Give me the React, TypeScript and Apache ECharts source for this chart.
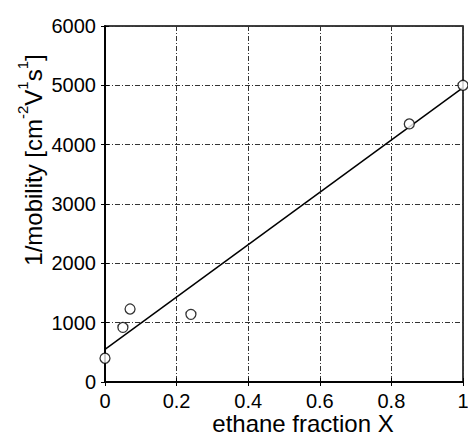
import React, { useEffect, useRef } from "react";
import * as echarts from "echarts";

const ethaneFraction = [0, 0.05, 0.07, 0.24, 0.85, 1.0];
const inverseMobility = [400, 920, 1230, 1140, 4350, 5000];
const fitX = [0, 1];
const fitY = [550, 4960];
const xTicks = [0, 0.2, 0.4, 0.6, 0.8, 1];
const yTicks = [0, 1000, 2000, 3000, 4000, 5000, 6000];

const FONT = "'Liberation Sans', Arial, sans-serif";

export default function App() {
  const ref = useRef<HTMLDivElement>(null);
  useEffect(() => {
    if (!ref.current) return;
    const chart = echarts.init(ref.current, null, { renderer: "svg" });
    const gridLine = { show: true, lineStyle: { color: "#333", width: 1, type: [5, 2, 1, 2] } };
    const xFmt = (v: number) => (xTicks.includes(Number(v.toFixed(1))) ? String(Number(v.toFixed(1))) : "");
    chart.setOption({
      animation: false,
      backgroundColor: "#fff",
      grid: {
        left: 105,
        top: 26,
        right: 5,
        bottom: 54,
        show: true,
        borderColor: "#000",
        borderWidth: 1.5,
        containLabel: false,
        outerBoundsMode: "none",
      },
      xAxis: [
        {
          type: "value",
          min: 0,
          max: 1,
          interval: 0.2,
          axisLine: { show: true, lineStyle: { color: "#000", width: 1.5 } },
          axisTick: { show: true, inside: true, length: 4, lineStyle: { color: "#000" } },
          axisLabel: { color: "#000", fontFamily: FONT, fontSize: 20, lineHeight: 20, margin: 9, formatter: xFmt },
          splitLine: gridLine,
          name: "ethane fraction X",
          nameLocation: "middle",
          nameGap: 31,
          nameMoveOverlap: false,
          nameTextStyle: { color: "#000", fontFamily: FONT, fontSize: 24, lineHeight: 20, padding: [0, 0, 0, 38] },
        },
        {
          type: "value",
          position: "top",
          min: 0,
          max: 1,
          interval: 0.2,
          axisLine: { show: true, lineStyle: { color: "#000", width: 1.5 } },
          axisTick: { show: true, inside: true, length: 4, lineStyle: { color: "#000" } },
          axisLabel: { show: false },
          splitLine: { show: false },
        },
      ],
      yAxis: [
        {
          type: "value",
          min: 0,
          max: 6000,
          interval: 1000,
          axisLine: { show: true, lineStyle: { color: "#000", width: 1.5 } },
          axisTick: { show: true, inside: true, length: 4, lineStyle: { color: "#000" } },
          axisLabel: {
            color: "#000",
            fontFamily: FONT,
            fontSize: 20,
            margin: 9,
            formatter: (v: number) => (yTicks.includes(v) ? String(v) : ""),
          },
          splitLine: gridLine,
          name: "{t|1/mobility [cm}{s|-2}{t|V}{s|1}{t|s}{s|1}{t|]}",
          nameLocation: "middle",
          nameRotate: 90,
          nameGap: 60,
          nameMoveOverlap: false,
          nameTextStyle: {
            color: "#000",
            fontFamily: FONT,
            fontSize: 24,
            padding: [0, 0, 0, 88],
            rich: {
              t: { fontFamily: FONT, fontSize: 24, color: "#000", verticalAlign: "bottom", lineHeight: 30 },
              s: { fontFamily: FONT, fontSize: 15, color: "#000", verticalAlign: "top", lineHeight: 30 },
            },
          },
        },
        {
          type: "value",
          position: "right",
          min: 0,
          max: 6000,
          interval: 1000,
          axisLine: { show: true, lineStyle: { color: "#000", width: 1.5 } },
          axisTick: { show: true, inside: true, length: 4, lineStyle: { color: "#000" } },
          axisLabel: { show: false },
          splitLine: { show: false },
        },
      ],
      series: [
        {
          type: "line",
          data: fitX.map((x, i) => [x, fitY[i]]),
          showSymbol: false,
          lineStyle: { color: "#000", width: 1.5 },
          z: 3,
        },
        {
          type: "scatter",
          data: ethaneFraction.map((x, i) => [x, inverseMobility[i]]),
          symbol: "circle",
          symbolSize: 10,
          clip: false,
          itemStyle: { color: "#fff", borderColor: "#000", borderWidth: 1.3 },
          z: 4,
        },
      ],
    });
    return () => chart.dispose();
  }, []);
  return (
    <div
      ref={ref}
      style={{ position: "fixed", left: 0, top: 0, width: 468, height: 436, background: "#fff" }}
    />
  );
}
